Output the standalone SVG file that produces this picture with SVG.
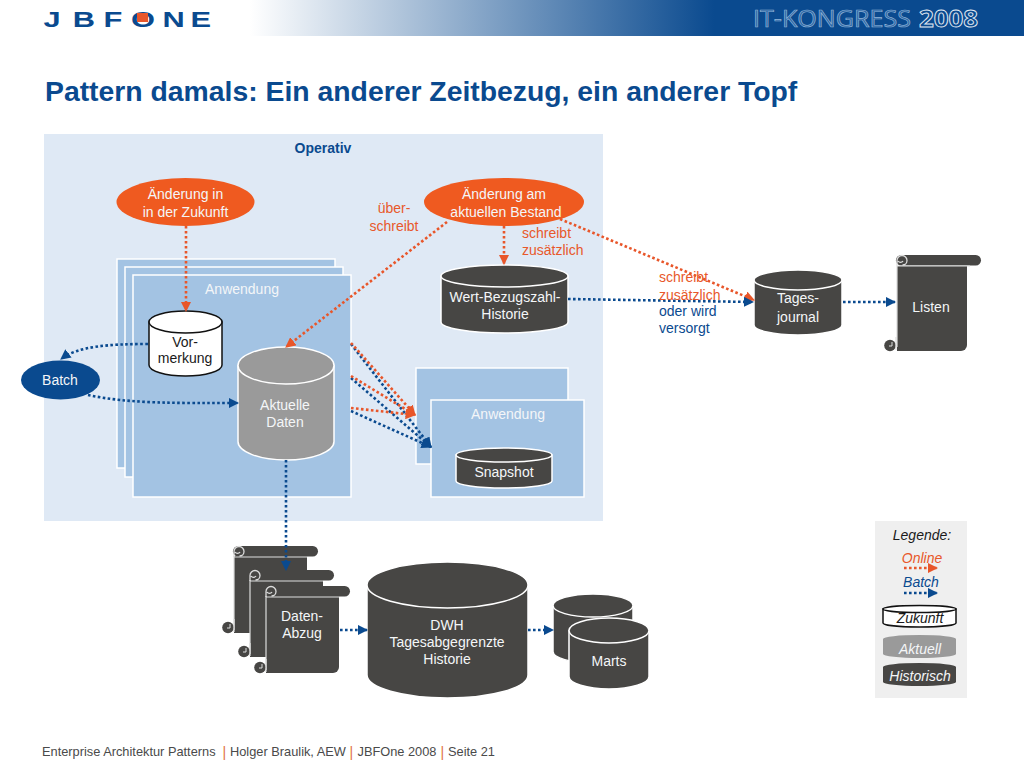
<svg xmlns="http://www.w3.org/2000/svg" width="1024" height="768" viewBox="0 0 1024 768" font-family="'Liberation Sans',Arial,sans-serif">
<style>
text{font-family:'Liberation Sans',Arial,sans-serif;font-size:14px;text-anchor:middle}
.w{fill:#f4f6f8}.k{fill:#1a1a1a}.o{fill:#e8582a}.b{fill:#0a4a8f}.l{text-anchor:start}
.app{fill:#a3c3e3;stroke:#fff;stroke-width:1.5}
.dk{fill:#474644}.gr{fill:#9a9a9a}.wh{fill:#fff}
.st{stroke:#fff;stroke-width:1.5}
.sk{stroke:#111;stroke-width:1.5}
.cb{fill:none;stroke:#0a4a8f;stroke-width:2.6;stroke-dasharray:2.6 2.4}
.co{fill:none;stroke:#e8562a;stroke-width:2.6;stroke-dasharray:2.6 2.4}
.i{font-style:italic}
.f{font-size:12.8px;fill:#4a4a4a;text-anchor:start}
.s{font-size:14px;fill:#e0703c;text-anchor:start}
.lg{font-size:22px;font-weight:bold;fill:#0a4a8f;text-anchor:start}
.kg{font-family:'Open Sans',sans-serif;font-size:24px;text-anchor:start}
</style>
<defs>
<linearGradient id="hg" x1="0" x2="1" y1="0" y2="0"><stop offset="0" stop-color="#fff"/><stop offset=".6" stop-color="#0a4a8f"/><stop offset="1" stop-color="#0a4a8f"/></linearGradient>
<marker id="ab" markerWidth="4" markerHeight="4" refX="3.600" refY="2" orient="auto"><path d="M0 0L4 2L0 4z" fill="#0a4a8f"/></marker>
<marker id="ao" markerWidth="4" markerHeight="4" refX="3.600" refY="2" orient="auto"><path d="M0 0L4 2L0 4z" fill="#e8562a"/></marker>
<g id="scroll-head">
<rect x="-1" y="-4" width="85" height="10.500" rx="5.200" fill="#474644"/>
<path d="M0 7V1.500a5 5 0 0 1 10 0a4.500 4.500 0 0 1-4.500 4.500M1 2a3 3 0 0 0 5 0" fill="none" stroke="#ddd" stroke-width="1.300"/>
<path d="M0 7H73" stroke="#ddd" stroke-width="1.200"/>
</g>
<g id="scroll-foot">
<circle cx="-5" cy="-5.500" r="5.800" fill="#474644"/>
<path d="M-3-9v4h-3" fill="none" stroke="#ddd" stroke-width="1"/>
<path d="M1-14V-1" fill="none" stroke="#ddd" stroke-width="1.200"/>
</g>
</defs>
<rect width="1024" height="768" fill="#fff"/>
<g id="header">
<rect x="250" y="0" width="774" height="36" fill="url(#hg)"/>
<text class="lg" y="27" transform="scale(1.4 1)" x="31 52 74 93.500 116 136">JBFONE</text>
<rect x="137" y="13" width="11" height="9" fill="#e8562a"/>
<text class="kg" x="753" y="27" textLength="158" lengthAdjust="spacingAndGlyphs" style="fill:#2a65a5;stroke:#8fb3d6;stroke-width:.7">IT-KONGRESS</text>
<text class="kg" x="919" y="27" textLength="59" lengthAdjust="spacingAndGlyphs" style="font-weight:bold;fill:#0a4a8f;stroke:#e4ebf3;stroke-width:.9">2008</text>
</g>
<text x="45" y="101" class="l" style="font-size:28.350px;font-weight:bold;fill:#0a4a8f">Pattern damals: Ein anderer Zeitbezug, ein anderer Topf</text>
<rect id="operativ-area" x="44" y="134" width="559" height="387" fill="#dfe9f5"/>
<text x="323" y="153" style="font-weight:bold;fill:#0a4a8f">Operativ</text>

<g id="app-stack-1">
<rect class="app" x="117" y="259" width="218" height="209"/>
<rect class="app" x="125" y="267" width="218" height="210"/>
<rect class="app" x="133" y="275" width="218" height="222"/>
<text x="242" y="294" class="w">Anwendung</text>
</g>
<g id="app-stack-2">
<rect class="app" x="416" y="368" width="152" height="96"/>
<rect class="app" x="431" y="400" width="153" height="97"/>
<text x="508" y="419" class="w">Anwendung</text>
</g>

<g id="change-future">
<ellipse cx="185.500" cy="202" rx="69" ry="24" fill="#ef5a20"/>
<text x="185.500" y="199" class="w">Änderung in</text><text x="185.500" y="217" class="w">in der Zukunft</text>
</g>
<g id="change-current">
<ellipse cx="504" cy="202" rx="80" ry="24" fill="#ef5a20"/>
<text x="504" y="199" class="w">Änderung am</text><text x="506" y="217" class="w">aktuellen Bestand</text>
</g>
<g id="batch">
<ellipse cx="60.500" cy="380" rx="39.500" ry="19.500" fill="#0a4a8f"/>
<text x="60" y="385" class="w">Batch</text>
</g>
<g id="vormerkung">
<path d="M149 322V365A36.500 11 0 0 0 222 365V322z" class="wh sk"/>
<ellipse cx="185.500" cy="322" rx="36.500" ry="11" class="wh sk"/>
<text x="185" y="347" class="k">Vor-</text><text x="185" y="363" class="k">merkung</text>
</g>
<g id="aktuelle-daten">
<path d="M238 365.500V441.500A48 18.500 0 0 0 334 441.500V365.500z" class="gr st"/>
<ellipse cx="286" cy="365.500" rx="48" ry="18.500" class="gr st"/>
<text x="285" y="410" class="w">Aktuelle</text><text x="285" y="427" class="w">Daten</text>
</g>
<g id="wert-historie">
<path d="M441 276V322A63.500 11 0 0 0 568 322V276z" class="dk st"/>
<ellipse cx="504.500" cy="276" rx="63.500" ry="11" class="dk st"/>
<text x="505" y="302" class="w">Wert-Bezugszahl-</text><text x="505" y="319" class="w">Historie</text>
</g>
<g id="snapshot">
<path d="M456 455V481A48 7 0 0 0 552 481V455z" class="dk st"/>
<ellipse cx="504" cy="455" rx="48" ry="7" class="dk st"/>
<text x="504" y="477" class="w">Snapshot</text>
</g>
<g id="tages-journal">
<path d="M754 280V325A44 10 0 0 0 842 325V280z" class="dk st"/>
<ellipse cx="798" cy="280" rx="44" ry="10" class="dk st"/>
<text x="798" y="303" class="w">Tages-</text><text x="798" y="322" class="w">journal</text>
</g>
<g id="listen">
<path d="M897 266H967V345a6 6 0 0 1-6 6H897z" class="dk"/>
<use href="#scroll-head" x="897" y="259"/>
<path d="M897 266V347" stroke="#ddd" stroke-width="1.200"/>
<use href="#scroll-foot" x="895" y="351"/>
<text x="931" y="312" class="w">Listen</text>
</g>
<g id="daten-abzug">
<path d="M234 556H307V633H234z" class="dk"/>
<use href="#scroll-head" x="234" y="550"/>
<path d="M234 556V630" stroke="#ddd" stroke-width="1.200"/>
<use href="#scroll-foot" x="233" y="633"/>
<path d="M250 580H323V657H250z" class="dk"/>
<use href="#scroll-head" x="250" y="574"/>
<path d="M250 580V654" stroke="#ddd" stroke-width="1.200"/>
<use href="#scroll-foot" x="249" y="657"/>
<path d="M266 596H339V667a6 6 0 0 1-6 6H266z" class="dk"/>
<use href="#scroll-head" x="266" y="590"/>
<path d="M266 596V670" stroke="#ddd" stroke-width="1.200"/>
<use href="#scroll-foot" x="265" y="673"/>
<text x="302" y="621" class="w">Daten-</text><text x="302" y="638" class="w">Abzug</text>
</g>
<g id="dwh">
<path d="M367 585V675A80.500 23 0 0 0 528 675V585z" class="dk st"/>
<ellipse cx="447.500" cy="585" rx="80.500" ry="23" class="dk st"/>
<text x="447" y="630" class="w">DWH</text><text x="447" y="647" class="w">Tagesabgegrenzte</text><text x="447" y="664" class="w">Historie</text>
</g>
<g id="marts">
<path d="M553 605.500V651.500A40 11.500 0 0 0 633 651.500V605.500z" class="dk st"/>
<ellipse cx="593" cy="605.500" rx="40" ry="11.500" class="dk st"/>
<path d="M569 630.500V676.500A40 12.500 0 0 0 649 676.500V630.500z" class="dk st"/>
<ellipse cx="609" cy="630.500" rx="40" ry="12.500" class="dk st"/>
<text x="609" y="666" class="w">Marts</text>
</g>

<g id="connectors">
<path class="co" d="M186 226V311" marker-end="url(#ao)"/>
<path class="co" d="M504 226V264" marker-end="url(#ao)"/>
<path class="co" d="M447 222L286 347" marker-end="url(#ao)"/>
<path class="co" d="M560 219L754 300" marker-end="url(#ao)"/>
<path class="cb" d="M148 344C110 344 78 346 61 359" marker-end="url(#ab)"/>
<path class="cb" d="M88 395C130 404 180 403 238 403" marker-end="url(#ab)"/>
<path class="cb" d="M286 460V570" marker-end="url(#ab)"/>
<path class="cb" d="M568 299L753 302" marker-end="url(#ab)"/>
<path class="cb" d="M843 302H895" marker-end="url(#ab)"/>
<path class="cb" d="M340 630H367" marker-end="url(#ab)"/>
<path class="cb" d="M528 630H553" marker-end="url(#ab)"/>
<path class="cb" d="M351 344L431 447" marker-end="url(#ab)"/>
<path class="cb" d="M351 378L431 447" marker-end="url(#ab)"/>
<path class="cb" d="M351 411L431 447" marker-end="url(#ab)"/>
<path class="co" d="M351 343L415 415" marker-end="url(#ao)"/>
<path class="co" d="M351 376L415 415" marker-end="url(#ao)"/>
<path class="co" d="M351 408L415 415" marker-end="url(#ao)"/>
</g>

<g id="labels">
<text x="394" y="213" class="o">über-</text><text x="394" y="231" class="o">schreibt</text>
<text x="522" y="238" class="o l">schreibt</text><text x="522" y="255" class="o l">zusätzlich</text>
<text x="659" y="282" class="o l">schreibt</text><text x="659" y="300" class="o l">zusätzlich</text>
<text x="659" y="316" class="b l">oder wird</text><text x="659" y="333" class="b l">versorgt</text>
</g>

<g id="legend">
<rect x="875" y="521" width="92" height="177" fill="#efefef"/>
<text x="922" y="540" class="k i">Legende:</text>
<text x="922" y="563" class="o i">Online</text>
<path class="co" d="M904 568H937" marker-end="url(#ao)"/>
<text x="921" y="587" class="b i">Batch</text>
<path class="cb" d="M904 593H937" marker-end="url(#ab)"/>
<path d="M883 609V623A36.500 4 0 0 0 956 623V609z" class="wh sk"/>
<ellipse cx="919.500" cy="609" rx="36.500" ry="3.500" class="wh sk"/>
<text x="920" y="623" class="k i">Zukunft</text>
<path d="M883 639V654A36.500 4 0 0 0 956 654V639A36.500 4 0 0 0 883 639z" class="gr"/>
<text x="920" y="654" class="w i">Aktuell</text>
<path d="M883 667V682A36.500 4 0 0 0 956 682V667A36.500 4 0 0 0 883 667z" class="dk"/>
<text x="920" y="681" class="w i">Historisch</text>
</g>
<g id="footer">
<text class="f" x="42" y="756">Enterprise Architektur Patterns</text>
<text class="s" x="222.500" y="757">|</text>
<text class="f" x="230" y="756">Holger Braulik, AEW</text>
<text class="s" x="349.500" y="757">|</text>
<text class="f" x="357.500" y="756">JBFOne 2008</text>
<text class="s" x="440.500" y="757">|</text>
<text class="f" x="448" y="756">Seite 21</text>
</g>
</svg>
